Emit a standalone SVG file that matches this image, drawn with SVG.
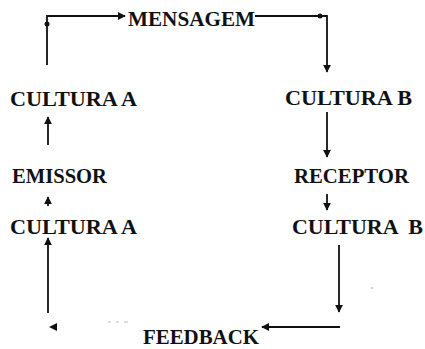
<svg xmlns="http://www.w3.org/2000/svg" width="425" height="349" viewBox="0 0 425 349">
  <style>
    .lbl { font-family: "Liberation Serif", "Times New Roman", serif; font-size: 21px; font-weight: bold; fill: #111; }
    .ln { stroke: #111; stroke-width: 1.8; fill: none; }
  </style>
  <defs>
    <marker id="ah" viewBox="0 0 10 10" refX="9" refY="5" markerWidth="4.5" markerHeight="4.5" orient="auto" markerUnits="strokeWidth">
      <path d="M0,0 L10,5 L0,10 z" fill="#111"/>
    </marker>
  </defs>
  <rect width="425" height="349" fill="#fff"/>

  <g id="connectors">
    <path class="ln" d="M47,65 L47,16 L125,16" marker-end="url(#ah)"/>
    <circle cx="47" cy="24" r="2.5" fill="#111"/>
    <path class="ln" d="M255,16 L327,16 L327,72" marker-end="url(#ah)"/>
    <circle cx="320" cy="16" r="2.5" fill="#111"/>
    <path class="ln" d="M327,112 L327,157" marker-end="url(#ah)"/>
    <path class="ln" d="M327,194 L327,210" marker-end="url(#ah)"/>
    <path class="ln" d="M48,145 L48,117" marker-end="url(#ah)"/>
    <path class="ln" d="M48,206 L48,197" marker-end="url(#ah)"/>
    <path class="ln" d="M48,313 L48,238" marker-end="url(#ah)"/>
    <path class="ln" d="M339,245 L339,312" marker-end="url(#ah)"/>
    <path class="ln" d="M340,327 L262,327" marker-end="url(#ah)"/>
    <path d="M57,323 L49,327 L57,331 z" fill="#111"/>
    <path d="M108,322 h3 M116,322 h3 M124,322 h4" stroke="#bbb" stroke-width="1"/>
    <circle cx="372" cy="288" r="1" fill="#bbb"/>
  </g>

  <g id="mensagem"><text class="lbl" x="128" y="26" font-size="21" textLength="127" lengthAdjust="spacingAndGlyphs">MENSAGEM</text></g>
  <g id="cultura-a-1"><text class="lbl" x="10" y="106" font-size="23" textLength="127" lengthAdjust="spacingAndGlyphs">CULTURA A</text></g>
  <g id="cultura-b-1"><text class="lbl" x="285" y="105" font-size="22" textLength="127" lengthAdjust="spacingAndGlyphs">CULTURA B</text></g>
  <g id="emissor"><text class="lbl" x="12" y="183" font-size="20" textLength="95" lengthAdjust="spacingAndGlyphs">EMISSOR</text></g>
  <g id="receptor"><text class="lbl" x="294" y="183" font-size="22" textLength="115" lengthAdjust="spacingAndGlyphs">RECEPTOR</text></g>
  <g id="cultura-a-2"><text class="lbl" x="10" y="234" font-size="21" textLength="127" lengthAdjust="spacingAndGlyphs">CULTURA A</text></g>
  <g id="cultura-b-2"><text class="lbl" x="292" y="234" font-size="23" textLength="131" lengthAdjust="spacingAndGlyphs" xml:space="preserve">CULTURA  B</text></g>
  <g id="feedback"><text class="lbl" x="143" y="344" font-size="20" textLength="116" lengthAdjust="spacingAndGlyphs">FEEDBACK</text></g>
</svg>
